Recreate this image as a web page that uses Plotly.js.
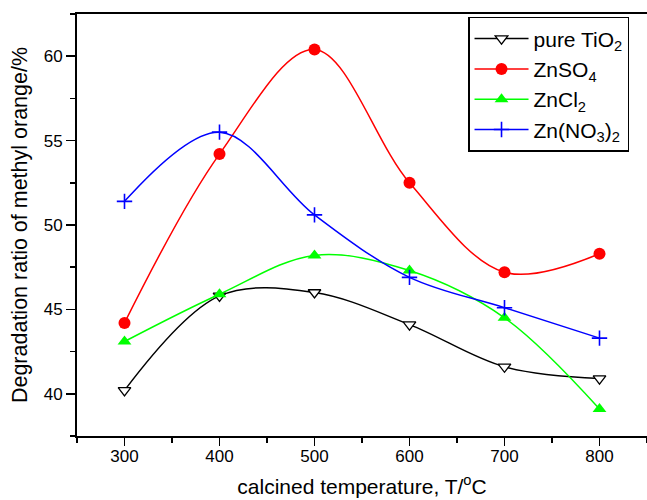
<!DOCTYPE html>
<html>
<head>
<meta charset="utf-8">
<script src="https://cdn.plot.ly/plotly-3.0.1.min.js"></script>
<style>
  html, body { margin: 0; padding: 0; background: #fff; }
  #chart { width: 647px; height: 500px; }
</style>
</head>
<body>
<div id="chart"></div>
<script>
// Calcination temperature (°C)
const temperature = [300, 400, 500, 600, 700, 800];

// Degradation ratio of methyl orange (%) for each catalyst
const pureTiO2 = [40.2, 45.8, 46.0, 44.1, 41.6, 40.9];
const znSO4    = [44.2, 54.2, 60.4, 52.5, 47.2, 48.3];
const znCl2    = [43.1, 45.9, 48.2, 47.3, 44.5, 39.1];
const znNO3    = [51.4, 55.5, 50.6, 46.9, 45.1, 43.3];

const seriesNames = [
  'pure TiO<sub>2</sub>',
  'ZnSO<sub>4</sub>',
  'ZnCl<sub>2</sub>',
  'Zn(NO<sub>3</sub>)<sub>2</sub>'
];

const xTickValues = [300, 400, 500, 600, 700, 800];
const yTickValues = [40, 45, 50, 55, 60];

const FONT = 'Liberation Sans, Arial, sans-serif';

function series(name, y, color, marker) {
  return {
    x: temperature,
    y: y,
    name: name,
    type: 'scatter',
    mode: 'lines+markers',
    line: { color: color, width: 1.5, shape: 'spline', smoothing: 1 },
    marker: marker
  };
}

const traces = [
  series(seriesNames[0], pureTiO2, '#000000',
    { symbol: 'triangle-down', size: 11, color: '#ffffff', line: { color: '#000000', width: 1.3 } }),
  series(seriesNames[1], znSO4, '#ff0000',
    { symbol: 'circle', size: 12, color: '#ff0000', line: { width: 0 } }),
  series(seriesNames[2], znCl2, '#00ff00',
    { symbol: 'triangle-up', size: 12, color: '#00ff00', line: { width: 0 } }),
  series(seriesNames[3], znNO3, '#0000ff',
    { symbol: 'cross-thin', size: 11, color: '#0000ff', line: { color: '#0000ff', width: 1.6 } })
];

const layout = {
  width: 647,
  height: 500,
  margin: { l: 77, r: 0, t: 14, b: 64 },
  paper_bgcolor: '#ffffff',
  plot_bgcolor: '#ffffff',
  font: { family: FONT, color: '#000000', size: 17 },
  showlegend: true,
  legend: {
    x: 0.686, y: 0.993, xanchor: 'left', yanchor: 'top',
    bgcolor: '#ffffff', bordercolor: '#000000', borderwidth: 1.5,
    font: { family: FONT, size: 21, color: '#000000' },
    itemwidth: 54,
    tracegroupgap: 0
  },
  xaxis: {
    range: [250, 850],
    tickvals: xTickValues,
    ticks: 'outside', ticklen: 8, tickwidth: 1.5, tickcolor: '#000000',
    minor: { dtick: 50, tick0: 0, ticks: 'outside', ticklen: 5, tickwidth: 1.5, tickcolor: '#000000' },
    showline: true, linecolor: '#000000', linewidth: 2, mirror: true,
    showgrid: false, zeroline: false,
    tickfont: { family: FONT, size: 17 },
    ticklabelstandoff: -4,
    title: { text: 'calcined temperature, T/<sup>o</sup>C', font: { family: FONT, size: 21 }, standoff: 14 }
  },
  yaxis: {
    range: [37.5, 62.5],
    tickvals: yTickValues,
    ticks: 'outside', ticklen: 9, tickwidth: 1.5, tickcolor: '#000000',
    minor: { dtick: 2.5, tick0: 0, ticks: 'outside', ticklen: 5, tickwidth: 1.5, tickcolor: '#000000' },
    showline: true, linecolor: '#000000', linewidth: 2, mirror: true,
    showgrid: false, zeroline: false,
    tickfont: { family: FONT, size: 17 },
    title: { text: 'Degradation ratio of methyl orange/%', font: { family: FONT, size: 21.5 }, standoff: 10 }
  }
};

Plotly.newPlot('chart', traces, layout, { displayModeBar: false, staticPlot: true });
</script>
</body>
</html>
